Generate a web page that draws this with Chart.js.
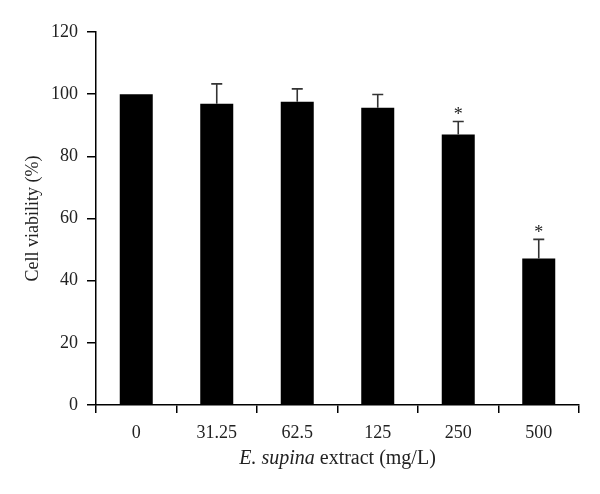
<!DOCTYPE html>
<html>
<head>
<meta charset="utf-8">
<script src="https://cdn.jsdelivr.net/npm/chart.js@4/dist/chart.umd.min.js"></script>
<style>
  html, body { margin: 0; padding: 0; background: #fff; }
  #wrap { width: 600px; height: 494px; }
</style>
</head>
<body>
<div id="wrap"><canvas id="c" width="600" height="494"></canvas></div>
<script>
const categories = ['0', '31.25', '62.5', '125', '250', '500'];
const viability = [100, 96.9, 97.6, 95.6, 87.0, 47.1];
const errors = [0, 6.4, 4.1, 4.3, 4.2, 6.2];
const markers = ['', '', '', '', '*', '*'];
const yTicks = [0, 20, 40, 60, 80, 100, 120];
const xTitleItalic = 'E. supina';
const xTitleRest = ' extract (mg/L)';
const yTitle = 'Cell viability (%)';

const FONT = '"Liberation Serif", "Times New Roman", serif';

const errorBarPlugin = {
  id: 'errorBars',
  afterDatasetsDraw(chart) {
    const ctx = chart.ctx;
    const meta = chart.getDatasetMeta(0);
    const ys = chart.scales.y;
    ctx.save();
    meta.data.forEach((bar, i) => {
      const x = bar.x;
      const yv = ys.getPixelForValue(viability[i]);
      const yt = ys.getPixelForValue(viability[i] + errors[i]);
      if (errors[i] > 0) {
        ctx.strokeStyle = '#333';
        ctx.lineWidth = 1.6;
        ctx.beginPath();
        ctx.moveTo(x, yv);
        ctx.lineTo(x, yt);
        ctx.moveTo(x - 5.5, yt);
        ctx.lineTo(x + 5.5, yt);
        ctx.stroke();
      }
      if (markers[i]) {
        ctx.fillStyle = '#222';
        ctx.font = '18px ' + FONT;
        ctx.textAlign = 'center';
        ctx.textBaseline = 'middle';
        ctx.fillText(markers[i], x, yt - 6);
      }
    });
    ctx.restore();
  }
};

const xTitlePlugin = {
  id: 'xTitle',
  afterDraw(chart) {
    const ctx = chart.ctx;
    const area = chart.chartArea;
    ctx.save();
    ctx.fillStyle = '#222';
    ctx.textBaseline = 'middle';
    ctx.textAlign = 'left';
    ctx.font = 'italic 20px ' + FONT;
    const w1 = ctx.measureText(xTitleItalic).width;
    ctx.font = '20px ' + FONT;
    const w2 = ctx.measureText(xTitleRest).width;
    const cx = (area.left + area.right) / 2;
    let x = cx - (w1 + w2) / 2;
    const y = 459;
    ctx.font = 'italic 20px ' + FONT;
    ctx.fillText(xTitleItalic, x, y);
    ctx.font = '20px ' + FONT;
    ctx.fillText(xTitleRest, x + w1, y);
    ctx.restore();
  }
};

new Chart(document.getElementById('c'), {
  type: 'bar',
  data: {
    labels: categories,
    datasets: [{
      data: viability,
      backgroundColor: '#000',
      borderWidth: 0,
      barPercentage: 0.41,
      categoryPercentage: 1.0
    }]
  },
  options: {
    responsive: false,
    animation: false,
    devicePixelRatio: 1,
    layout: { padding: { top: 32, right: 21, left: 0, bottom: 0 } },
    plugins: { legend: { display: false }, tooltip: { enabled: false } },
    scales: {
      x: {
        offset: true,
        afterFit(scale) { scale.height = 89; },
        grid: { display: true, offset: true, drawOnChartArea: false, drawTicks: true, tickLength: 8, color: '#000', lineWidth: 1.5 },
        border: { display: true, color: '#000', width: 1.5 },
        ticks: { color: '#222', font: { family: FONT, size: 18 }, padding: 9 }
      },
      y: {
        min: 0, max: 120,
        afterFit(scale) { scale.width = 96; },
        afterBuildTicks(scale) { scale.ticks = yTicks.map(v => ({ value: v })); },
        grid: { display: true, drawOnChartArea: false, drawTicks: true, tickLength: 9, color: '#000', lineWidth: 1.5 },
        border: { display: true, color: '#000', width: 1.5 },
        ticks: { color: '#222', font: { family: FONT, size: 18 }, padding: 9 },
        title: { display: true, text: yTitle, color: '#222', font: { family: FONT, size: 18 }, padding: { top: 22, bottom: 0 } }
      }
    }
  },
  plugins: [errorBarPlugin, xTitlePlugin]
});
</script>
</body>
</html>
